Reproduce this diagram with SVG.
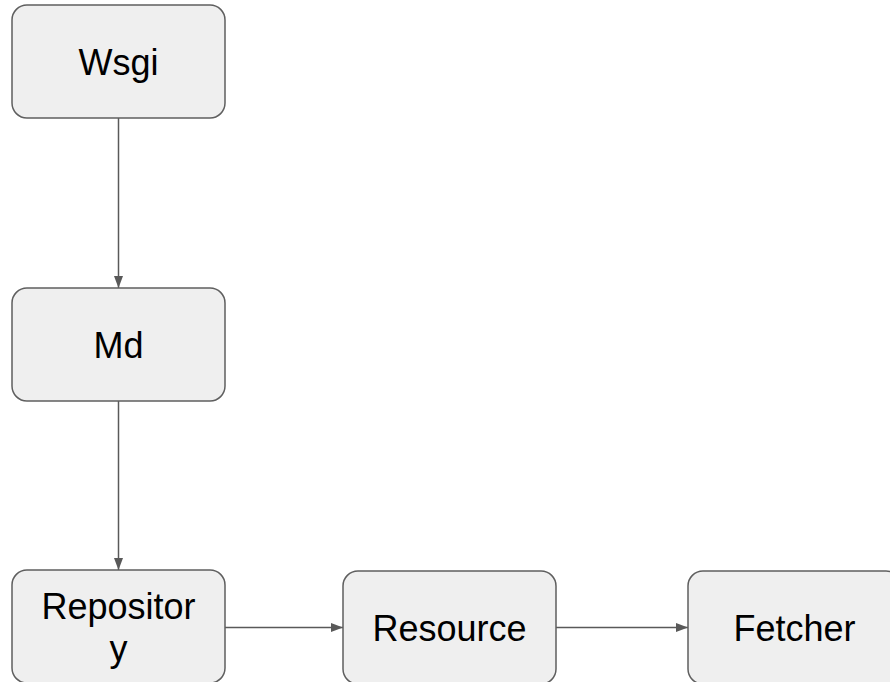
<svg xmlns="http://www.w3.org/2000/svg" width="890" height="682" viewBox="0 0 890 682">
  <style>
    .box { fill: #efefef; stroke: #5f5f5f; stroke-width: 1.5; }
    .label { font-family: "Liberation Sans", Arial, sans-serif; font-size: 36px; fill: #000; text-anchor: middle; }
    .edge { stroke: #595959; stroke-width: 1.5; fill: none; marker-end: url(#arrow); }
  </style>
  <defs>
    <marker id="arrow" viewBox="0 0 12 9" refX="12" refY="4.5" markerWidth="12" markerHeight="9" markerUnits="userSpaceOnUse" orient="auto">
      <path d="M0,0 L12,4.5 L0,9 Z" fill="#595959"/>
    </marker>
  </defs>

  <g id="connectors">
    <line class="edge" x1="118.5" y1="118" x2="118.5" y2="288"/>
    <line class="edge" x1="118.5" y1="401" x2="118.5" y2="570"/>
    <line class="edge" x1="225" y1="627.5" x2="343" y2="627.5"/>
    <line class="edge" x1="556" y1="627.5" x2="688" y2="627.5"/>
  </g>

  <g id="wsgi">
    <rect class="box" x="12" y="5" width="213" height="113" rx="15"/>
    <text class="label" x="118.5" y="75">Wsgi</text>
  </g>

  <g id="md">
    <rect class="box" x="12" y="288" width="213" height="113" rx="15"/>
    <text class="label" x="118.5" y="358">Md</text>
  </g>

  <g id="repository">
    <rect class="box" x="12" y="570" width="213" height="113" rx="15"/>
    <text class="label" x="118.5" y="619">Repositor</text>
    <text class="label" x="118.5" y="661">y</text>
  </g>

  <g id="resource">
    <rect class="box" x="343" y="571" width="213" height="113" rx="15"/>
    <text class="label" x="449.5" y="641">Resource</text>
  </g>

  <g id="fetcher">
    <rect class="box" x="688" y="571" width="213" height="113" rx="15"/>
    <text class="label" x="794.5" y="641">Fetcher</text>
  </g>
</svg>
